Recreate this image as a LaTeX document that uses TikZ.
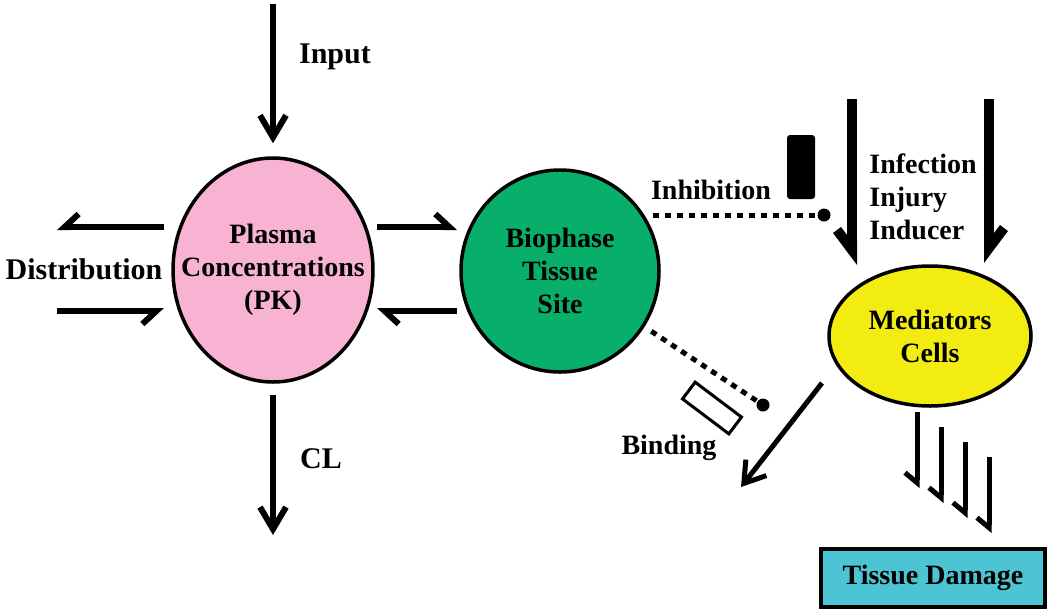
\documentclass[tikz,border=0pt]{standalone}
\usepackage{fontspec}
\setmainfont{Liberation Serif}
\usetikzlibrary{arrows.meta,shapes.geometric}
\definecolor{plasmapink}{HTML}{F7B3D1}
\definecolor{sitegreen}{HTML}{08AF6B}
\definecolor{cellyellow}{HTML}{F2EC10}
\definecolor{damagecyan}{HTML}{4DC4D4}
\tikzset{
	lbl/.style={font=\fontsize{14}{16.5}\selectfont\bfseries, align=center, inner sep=0pt},
	biglbl/.style={lbl, font=\fontsize{15}{17}\selectfont\bfseries},
	blob/.style={ellipse, draw, line width=1.75pt, inner sep=0pt},
	arr/.style={line width=3pt, -{Straight Barb[length=11pt, width=13pt]}},
	harr/.style={line width=3pt, -{Straight Barb[length=7pt, width=13pt, harpoon]}},
	harrsw/.style={line width=3pt, -{Straight Barb[length=7pt, width=13pt, harpoon, swap]}},
	fatarr/.style={line width=5pt, -{Straight Barb[length=10pt, width=15pt, harpoon]}},
	fatarrsw/.style={line width=5pt, -{Straight Barb[length=10pt, width=15pt, harpoon, swap]}},
	thinarrsw/.style={line width=2.5pt, -{Straight Barb[length=5pt, width=12pt, harpoon, swap]}},
	dotline/.style={line width=2.5pt, dash pattern=on 3pt off 3pt},
	knob/.style={circle, fill=black, inner sep=0pt, minimum size=6.5pt}
}
\begin{document}
\begin{tikzpicture}[x=0.5pt, y=-0.5pt]
	\useasboundingbox (0,0) rectangle (1050,612);
	% compartments
	\node[blob, fill=plasmapink, minimum width=100pt, minimum height=112pt,
		label={[lbl]center:{Plasma\\Concentrations\\(PK)}}] (pink) at (273,270) {};
	\node[blob, fill=sitegreen, minimum width=99pt, minimum height=101pt,
		label={[lbl]center:{Biophase\\Tissue\\Site}}] (green) at (560,271) {};
	\node[blob, fill=cellyellow, minimum width=101pt, minimum height=70pt,
		label={[lbl]center:{Mediators\\Cells}}] (yellow) at (930,336) {};
	\node[draw, line width=2pt, fill=damagecyan, minimum width=112pt, minimum height=29pt, lbl] (damage) at (933,578) {Tissue Damage};
	% input and clearance
	\coordinate (inp) at (273,4);
	\coordinate (cl) at (273,535);
	\draw[arr, shorten >=6.5pt] (inp) -- (pink);
	\draw[arr, shorten <=5.5pt] (pink) -- (cl);
	\node[biglbl] (inplbl) at (335,57) {Input};
	\node[biglbl] (cllbl) at (321,459) {CL};
	% distribution
	\coordinate (d1) at (164,227); \coordinate (d2) at (57,227);
	\coordinate (d3) at (57,311); \coordinate (d4) at (164,311);
	\draw[harrsw] (d1) -- (d2);
	\draw[harrsw] (d3) -- (d4);
	\node[biglbl] (distlbl) at (84,269) {Distribution};
	\coordinate (p1) at (377,227); \coordinate (p2) at (457,227);
	\coordinate (p3) at (457,311); \coordinate (p4) at (377,311);
	\draw[harr] (p1) -- (p2);
	\draw[harr] (p3) -- (p4);
	% inhibition and binding
	\coordinate (inhstart) at (653,215);
	\node[knob] (inhdot) at (824,215) {};
	\draw[dotline] (inhstart) -- (inhdot);
	\node[fill=black, rounded corners=1.5pt, minimum width=14pt, minimum height=32pt, inner sep=0pt] (inhblock) at (801,167) {};
	\node[lbl] (inhlbl) at (711,190) {Inhibition};
	\node[knob] (binddot) at (763,405) {};
	\draw[dotline, shorten <=4pt] (green) -- (binddot);
	\node[draw, line width=1.5pt, minimum width=29pt, minimum height=10.5pt, inner sep=0pt, rotate=-37] (bindblock) at (712,408) {};
	\node[lbl] (bindlbl) at (669,448) {Binding};
	\coordinate (outA) at (822,383); \coordinate (outB) at (741,487);
	\draw[line width=2.5pt, -{Straight Barb[length=10pt, width=13pt]}] (outA) -- (outB);
	% stimulus
	\coordinate (infL) at (852,99); \coordinate (infLend) at (852,265);
	\coordinate (infR) at (989,99); \coordinate (infRend) at (989,263);
	\draw[fatarrsw] (infL) -- (infLend);
	\draw[fatarr] (infR) -- (infRend);
	\node[lbl, align=left, anchor=west] (inflbl) at (869,197) {Infection\\Injury\\Inducer};
	% damage
	\foreach \i in {0,...,3}
	{
		\coordinate (s\i) at (917+24*\i,412+15*\i);
		\coordinate (e\i) at (917+24*\i,488+15*\i);
		\draw[thinarrsw] (s\i) -- (e\i);
	}
\end{tikzpicture}
\end{document}
